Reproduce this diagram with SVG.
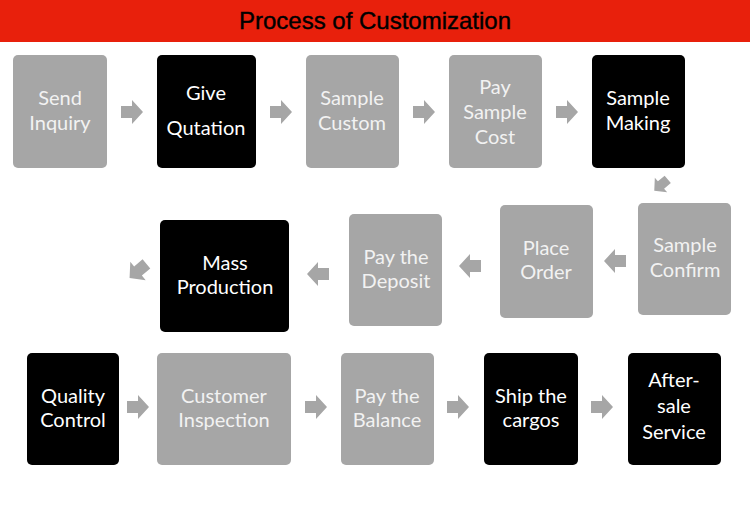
<svg xmlns="http://www.w3.org/2000/svg" width="750" height="515" viewBox="0 0 750 515">
  <defs>
    <style>
      .g { fill: #a6a6a6; }
      .k { fill: #000000; }
      .t { font-family: Lato, "Liberation Sans", sans-serif; font-size: 20px; text-anchor: middle; }
      .tw { fill: #ffffff; }
      .tg { fill: #f2f2f2; }
      .arr { fill: #a6a6a6; }
    </style>
    <path id="arrow" d="M-11,-6 H0 V-12 L11,0 L0,12 V6 H-11 Z"/>
  </defs>
  <rect x="0" y="0" width="750" height="515" fill="#ffffff"/>
  <rect x="0" y="0" width="750" height="42" fill="#e8200c"/>
  <text x="375" y="29" font-family="'Liberation Sans', Arial, sans-serif" font-size="24" text-anchor="middle" fill="#000000" stroke="#000000" stroke-width="0.4">Process of Customization</text>

  <g id="connectors" class="arr">
    <use href="#arrow" transform="translate(132,112)"/>
    <use href="#arrow" transform="translate(281,112)"/>
    <use href="#arrow" transform="translate(424,112)"/>
    <use href="#arrow" transform="translate(567,112)"/>
    <use href="#arrow" transform="translate(661,185) rotate(140) scale(0.8)"/>
    <use href="#arrow" transform="translate(615,261) rotate(180)"/>
    <use href="#arrow" transform="translate(470,266) rotate(180)"/>
    <use href="#arrow" transform="translate(318,274) rotate(180)"/>
    <use href="#arrow" transform="translate(138,271) rotate(140)"/>
    <use href="#arrow" transform="translate(138,407)"/>
    <use href="#arrow" transform="translate(316,407)"/>
    <use href="#arrow" transform="translate(458,407)"/>
    <use href="#arrow" transform="translate(602,407)"/>
  </g>

  <g id="send-inquiry">
    <rect class="g" x="13" y="55" width="94" height="113" rx="5"/>
    <text class="t tg"><tspan x="60" y="105">Send</tspan><tspan x="60" y="130">Inquiry</tspan></text>
  </g>
  <g id="give-qutation">
    <rect class="k" x="157" y="55" width="99" height="113" rx="5"/>
    <text class="t tw"><tspan x="206" y="100">Give</tspan><tspan x="206" y="135">Qutation</tspan></text>
  </g>
  <g id="sample-custom">
    <rect class="g" x="306" y="55" width="93" height="113" rx="5"/>
    <text class="t tg"><tspan x="352" y="105">Sample</tspan><tspan x="352" y="130">Custom</tspan></text>
  </g>
  <g id="pay-sample-cost">
    <rect class="g" x="449" y="55" width="93" height="113" rx="5"/>
    <text class="t tg"><tspan x="495" y="94">Pay</tspan><tspan x="495" y="119">Sample</tspan><tspan x="495" y="144">Cost</tspan></text>
  </g>
  <g id="sample-making">
    <rect class="k" x="592" y="55" width="93" height="113" rx="5"/>
    <text class="t tw"><tspan x="638" y="105">Sample</tspan><tspan x="638" y="130">Making</tspan></text>
  </g>

  <g id="sample-confirm">
    <rect class="g" x="638" y="203" width="93" height="112" rx="5"/>
    <text class="t tg"><tspan x="685" y="252">Sample</tspan><tspan x="685" y="277">Confirm</tspan></text>
  </g>
  <g id="place-order">
    <rect class="g" x="500" y="205" width="93" height="113" rx="5"/>
    <text class="t tg"><tspan x="546" y="255">Place</tspan><tspan x="546" y="279">Order</tspan></text>
  </g>
  <g id="pay-the-deposit">
    <rect class="g" x="349" y="214" width="93" height="112" rx="5"/>
    <text class="t tg"><tspan x="396" y="264">Pay the</tspan><tspan x="396" y="288">Deposit</tspan></text>
  </g>
  <g id="mass-production">
    <rect class="k" x="160" y="220" width="129" height="112" rx="5"/>
    <text class="t tw"><tspan x="225" y="270">Mass</tspan><tspan x="225" y="294">Production</tspan></text>
  </g>

  <g id="quality-control">
    <rect class="k" x="27" y="353" width="92" height="112" rx="5"/>
    <text class="t tw"><tspan x="73" y="403">Quality</tspan><tspan x="73" y="427">Control</tspan></text>
  </g>
  <g id="customer-inspection">
    <rect class="g" x="157" y="353" width="134" height="112" rx="5"/>
    <text class="t tg"><tspan x="224" y="403">Customer</tspan><tspan x="224" y="427">Inspection</tspan></text>
  </g>
  <g id="pay-the-balance">
    <rect class="g" x="341" y="353" width="93" height="112" rx="5"/>
    <text class="t tg"><tspan x="387" y="403">Pay the</tspan><tspan x="387" y="427">Balance</tspan></text>
  </g>
  <g id="ship-the-cargos">
    <rect class="k" x="484" y="353" width="94" height="112" rx="5"/>
    <text class="t tw"><tspan x="531" y="403">Ship the</tspan><tspan x="531" y="427">cargos</tspan></text>
  </g>
  <g id="after-sale-service">
    <rect class="k" x="628" y="353" width="93" height="112" rx="5"/>
    <text class="t tw"><tspan x="674" y="387">After-</tspan><tspan x="674" y="413">sale</tspan><tspan x="674" y="439">Service</tspan></text>
  </g>
</svg>
